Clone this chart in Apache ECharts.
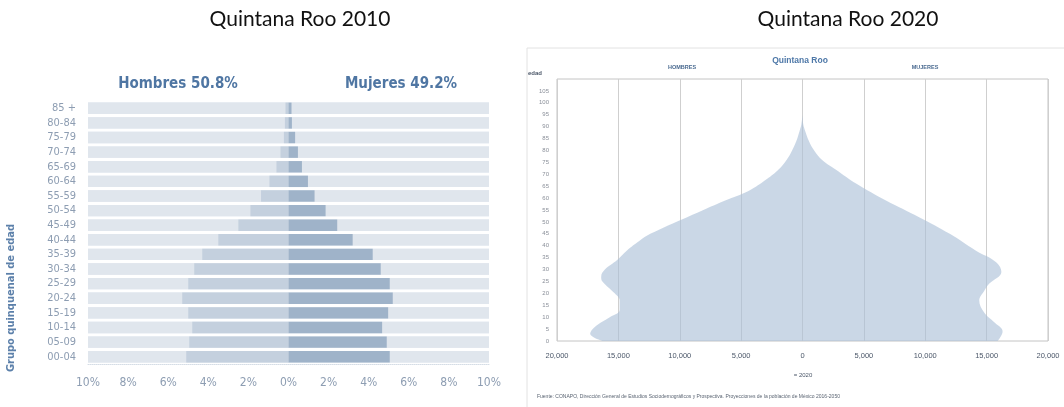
<!DOCTYPE html>
<html><head><meta charset="utf-8">
<script src="https://cdn.jsdelivr.net/npm/echarts@6/dist/echarts.min.js"></script>
<style>html,body{margin:0;padding:0;background:#fff}#c{width:1064px;height:407px}</style>
</head><body><div id="c"></div><script>
// ---- 2010 pyramid (percent of population) ----
const ageGroups = ['00-04','05-09','10-14','15-19','20-24','25-29','30-34','35-39','40-44','45-49','50-54','55-59','60-64','65-69','70-74','75-79','80-84','85 +'];
const men2010 = [5.1,4.95,4.8,5.0,5.3,5.0,4.7,4.3,3.5,2.5,1.9,1.37,0.95,0.6,0.4,0.23,0.18,0.15];
const women2010 = [5.05,4.9,4.67,4.97,5.2,5.05,4.6,4.2,3.2,2.43,1.85,1.3,0.97,0.67,0.47,0.33,0.17,0.15];
const pctMin = -10, pctMax = 10, pctStep = 2;

// ---- 2020 pyramid (persons by single year of age, read at sample ages) ----
const ageMax = 110;
const menAges2020 = [0,3,6,10,13,17,20,25,27,30,34,38,42,45,52,59,63,68,72,76,80,84,88,91,95];
const men2020 =     [16300,17300,16900,15700,14900,14900,15300,16300,16400,16100,15100,14300,13300,12400,9400,6300,4400,2900,1950,1300,850,500,250,90,0];
const womenAges2020 = [0,4,8,12,17,21,24,29,33,38,45,52,59,66,72,76,80,84,88,91,95];
const women2020 =     [15900,16300,15600,14800,14400,14800,15200,16200,15800,14100,12000,9500,6800,4400,2700,1600,950,520,230,60,0];
const popMin = -20000, popMax = 20000, popStep = 5000;

const ageCats = [];
for (let a = 0; a <= ageMax; a++) ageCats.push(String(a));
function fullSeries(ages, vals, sign) {
  const out = ageCats.map(() => null);
  ages.forEach((a, i) => { out[a] = sign * vals[i]; });
  return out;
}

const narrow = "'Liberation Sans Narrow','DejaVu Sans Condensed','Liberation Sans',sans-serif";
const chart = echarts.init(document.getElementById('c'));
chart.setOption({
  animation: false,
  backgroundColor: '#fff',
  grid: [
    {left: 88, top: 101, width: 401, height: 263, outerBoundsMode: 'none', containLabel: false},
    {left: 557, top: 79, width: 491, height: 262, outerBoundsMode: 'none', containLabel: false,
     show: true, borderColor: '#c4c4c4', borderWidth: 1, backgroundColor: 'transparent'}
  ],
  xAxis: [
    {gridIndex: 0, type: 'value', min: pctMin, max: pctMax, interval: pctStep,
     axisLine: {show: true, lineStyle: {color: '#d5dde6', type: 'dotted'}},
     axisTick: {show: false}, splitLine: {show: false},
     axisLabel: {margin: 13, fontSize: 12, fontFamily: narrow, color: '#8d9db2',
       formatter: v => Math.abs(v) + '%'}},
    {gridIndex: 1, type: 'value', min: popMin, max: popMax, interval: popStep,
     axisLine: {show: false}, axisTick: {show: false},
     splitLine: {show: true, lineStyle: {color: '#cfcfcf', width: 1}},
     axisLabel: {margin: 11, fontSize: 7.5, color: '#4a5668',
       formatter: v => Math.abs(v).toLocaleString('en-US')}}
  ],
  yAxis: [
    {gridIndex: 0, type: 'category', data: ageGroups,
     axisLine: {show: false}, axisTick: {show: false},
     axisLabel: {margin: 12, fontSize: 11, interval: 0, fontFamily: narrow, color: '#8d9db2'}},
    {gridIndex: 1, type: 'category', data: ageCats, boundaryGap: false,
     axisLine: {show: false}, axisTick: {show: false},
     axisLabel: {margin: 8, fontSize: 6, color: '#8a8f99', interval: 4,
       formatter: v => (Number(v) >= ageMax ? '' : v)}}
  ],
  series: [
    {name: 'Hombres', type: 'bar', xAxisIndex: 0, yAxisIndex: 0, stack: 'p',
     data: men2010.map(v => -v), barCategoryGap: '22%',
     showBackground: true, backgroundStyle: {color: '#e0e6ed'},
     itemStyle: {color: '#c4d0de'}},
    {name: 'Mujeres', type: 'bar', xAxisIndex: 0, yAxisIndex: 0, stack: 'p',
     data: women2010, barCategoryGap: '22%',
     showBackground: true, backgroundStyle: {color: '#e0e6ed'},
     itemStyle: {color: '#9fb3c9'}},
    {name: 'Hombres 2020', type: 'line', xAxisIndex: 1, yAxisIndex: 1,
     data: fullSeries(menAges2020, men2020, -1), connectNulls: true, smooth: 0.4,
     symbol: 'none', lineStyle: {width: 0},
     areaStyle: {color: 'rgba(170,190,214,0.62)', opacity: 1}},
    {name: 'Mujeres 2020', type: 'line', xAxisIndex: 1, yAxisIndex: 1,
     data: fullSeries(womenAges2020, women2020, 1), connectNulls: true, smooth: 0.4,
     symbol: 'none', lineStyle: {width: 0},
     areaStyle: {color: 'rgba(170,190,214,0.62)', opacity: 1}}
  ],
  graphic: [
    {type: 'rect', shape: {x: 527, y: 48, width: 600, height: 420}, style: {fill: 'none', stroke: '#e2e2e2', lineWidth: 1}, z: -1},
    {type: 'text', x: 300, y: 19, style: {text: 'Quintana Roo 2010', font: "21px Lato, 'Liberation Sans', sans-serif", fill: '#111', textAlign: 'center', textVerticalAlign: 'middle'}},
    {type: 'text', x: 848, y: 19, style: {text: 'Quintana Roo 2020', font: "21px Lato, 'Liberation Sans', sans-serif", fill: '#111', textAlign: 'center', textVerticalAlign: 'middle'}},
    {type: 'text', x: 178, y: 84, style: {text: 'Hombres 50.8%', font: "bold 15px " + narrow, fill: '#4f76a3', textAlign: 'center', textVerticalAlign: 'middle'}},
    {type: 'text', x: 401, y: 84, style: {text: 'Mujeres 49.2%', font: "bold 15px " + narrow, fill: '#4f76a3', textAlign: 'center', textVerticalAlign: 'middle'}},
    {type: 'text', x: 11, y: 298, rotation: Math.PI / 2, style: {text: 'Grupo quinquenal de edad', font: "bold 11px " + narrow, fill: '#5c80aa', textAlign: 'center', textVerticalAlign: 'middle'}},
    {type: 'text', x: 535, y: 73, style: {text: 'edad', font: "bold 6px 'Liberation Sans', sans-serif", fill: '#4a5668', textAlign: 'center', textVerticalAlign: 'middle'}},
    {type: 'text', x: 682, y: 67, style: {text: 'HOMBRES', font: "bold 5.5px 'Liberation Sans', sans-serif", fill: '#4a6a90', textAlign: 'center', textVerticalAlign: 'middle'}},
    {type: 'text', x: 925, y: 67, style: {text: 'MUJERES', font: "bold 5.5px 'Liberation Sans', sans-serif", fill: '#4a6a90', textAlign: 'center', textVerticalAlign: 'middle'}},
    {type: 'text', x: 800, y: 61, style: {text: 'Quintana Roo', font: "bold 8.5px 'Liberation Sans', sans-serif", fill: '#4e78a8', textAlign: 'center', textVerticalAlign: 'middle'}},
    {type: 'text', x: 803, y: 375, style: {text: '= 2020', font: "6px 'Liberation Sans', sans-serif", fill: '#4a5668', textAlign: 'center', textVerticalAlign: 'middle'}},
    {type: 'text', x: 537, y: 397, style: {text: 'Fuente: CONAPO, Dirección General de Estudios Sociodemográficos y Prospectiva. Proyecciones de la población de México 2016-2050', font: "5px 'Liberation Sans', sans-serif", fill: '#5a6472', textAlign: 'left', textVerticalAlign: 'middle'}}
  ]
});
</script></body></html>
